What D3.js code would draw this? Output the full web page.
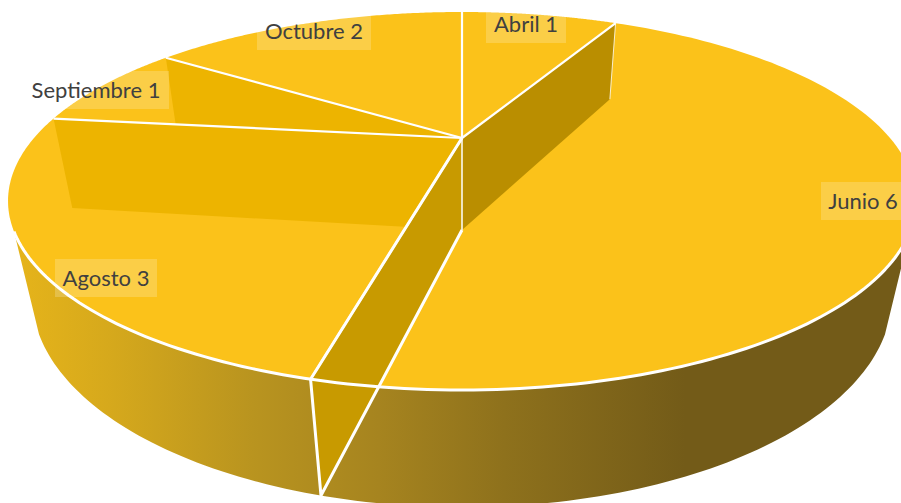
<!DOCTYPE html>
<html lang="es">
    <head>
        <meta charset="utf-8">
        <title>Pie 3D</title>
        <script type="text/javascript" src="https://d3js.org/d3.v7.min.js"></script>
        <style type="text/css">
            html, body { margin: 0; padding: 0; background: #fff; overflow: hidden; }
            svg { display: block; }
            text { font-family: Lato, "Open Sans", sans-serif; fill: #404040; }
        </style>
    </head>
    <body>
        <script type="text/javascript">
            const months = ["Abril", "Junio", "Agosto", "Septiembre", "Octubre"];
            const counts = [1, 6, 3, 1, 2];

            const width = 901;
            const height = 503;

            // label boxes as they sit in the picture [left, top, width]
            const labelBoxes = {
                "Abril": [486, 5, 80],
                "Junio": [821, 182, 84],
                "Agosto": [55, 259, 102],
                "Septiembre": [23, 71, 146],
                "Octubre": [257, 12, 114]
            };

            const topColor = "#fbc21a";

            const slices = d3.pie().sort(null).value(d => d)(counts);

            // perspective of the tilted disc
            const far = 1 / 3;     // shrink towards the back
            const drop = 0.05;     // shrink with depth
            const thick = 0.575;   // thickness in y-scale units

            const xScale = d3.scaleLinear().domain([-1, 1]).range([462 - 428, 462 + 428]);
            const yScale = d3.scaleLinear().domain([-1, 1]).range([138 + 168, 138 - 168]);

            // r: 0 centre, 1 rim. z: 0 top face, 1 underside
            function project(angle, r, z) {
                const u = r * Math.sin(angle);
                const v = r * Math.cos(angle);
                const w = 1 + far * v + drop * z;
                return [xScale(u / w), yScale((v - thick * z) / w)];
            }

            const line = d3.line();
            const rim = (a0, a1, z) => d3.range(0, 121).map(i => project(a0 + (a1 - a0) * i / 120, 1, z));
            const wedge = s => line([project(0, 0, 0), ...rim(s.startAngle, s.endAngle, 0)]) + "Z";
            const wall = a => line([project(a, 0, 0), project(a, 1, 0), project(a, 1, 1), project(a, 0, 1)]) + "Z";

            const svg = d3.select("body").append("svg")
                .attr("width", width)
                .attr("height", height);

            const defs = svg.append("defs");

            const grad = defs.append("linearGradient")
                .attr("id", "side")
                .attr("gradientUnits", "userSpaceOnUse")
                .attr("x1", 0).attr("x2", width)
                .attr("y1", 0).attr("y2", 0);
            [[0.015, "#e6b41a"], [0.12, "#d6a91c"], [0.28, "#b9941f"], [0.42, "#a6841f"],
             [0.56, "#8e711c"], [0.76, "#735b18"], [1, "#735b18"]].forEach(s => {
                grad.append("stop").attr("offset", s[0]).attr("stop-color", s[1]);
            });

            slices.forEach((s, i) => {
                defs.append("clipPath").attr("id", "clip" + i)
                    .append("path").attr("d", wedge(s));
            });

            const leftA = 242 * Math.PI / 180;
            const rightA = 118 * Math.PI / 180;

            // the cuts that show an inner wall
            const cutAbril = slices[0].endAngle;
            const cutAgosto = slices[2].startAngle;
            const cutSept = slices[3].startAngle;
            const cutOct = slices[4].startAngle;

            // outer side of the pie
            svg.append("path")
                .attr("d", line([...rim(rightA, leftA, 0), ...rim(leftA, rightA, 1)]) + "Z")
                .attr("fill", "url(#side)");

            // top face
            svg.selectAll("path.slice")
                .data(slices)
                .enter()
                .append("path")
                .attr("class", "slice")
                .attr("d", wedge)
                .attr("fill", topColor);

            // inner walls seen through the cuts
            svg.append("path")
                .attr("d", wall(cutOct))
                .attr("clip-path", "url(#clip3)")
                .attr("fill", "#edb400");
            svg.append("path")
                .attr("d", wall(cutSept))
                .attr("clip-path", "url(#clip2)")
                .attr("fill", "#edb400");
            svg.append("path")
                .attr("d", wall(cutAbril))
                .attr("fill", "#ba8e00");
            svg.append("path")
                .attr("d", wall(cutAgosto))
                .attr("fill", "#c89a00");

            // white edges
            const edge = (pts, w) => svg.append("path")
                .attr("d", line(pts))
                .attr("fill", "none")
                .attr("stroke", "#fff")
                .attr("stroke-width", w)
                .attr("stroke-linejoin", "round");

            edge(rim(leftA, rightA, 0), 3);
            slices.forEach(s => edge([project(s.startAngle, 0, 0), project(s.startAngle, 1, 0)], 2.2));
            edge([project(cutAgosto, 0, 0), project(cutAgosto, 1, 0)], 3);
            edge([project(cutAgosto, 1, 0), project(cutAgosto, 1, 1), project(cutAgosto, 0, 1)], 3);
            edge([project(0, 0, 0), project(0, 0, 1)], 1.5);
            edge([project(cutAbril, 1, 0), project(cutAbril, 1, 1)], 0.8);

            // labels
            const labels = svg.selectAll("g.label")
                .data(months)
                .enter()
                .append("g")
                .attr("class", "label")
                .attr("transform", d => "translate(" + labelBoxes[d][0] + "," + labelBoxes[d][1] + ")");

            labels.append("rect")
                .attr("width", d => labelBoxes[d][2])
                .attr("height", 38)
                .attr("fill", "#fff")
                .attr("fill-opacity", 0.2);

            labels.append("text")
                .attr("x", d => labelBoxes[d][2] / 2)
                .attr("y", 27)
                .attr("text-anchor", "middle")
                .attr("font-size", 22)
                .text((d, i) => d + " " + counts[i]);
        </script>
    </body>
</html>
